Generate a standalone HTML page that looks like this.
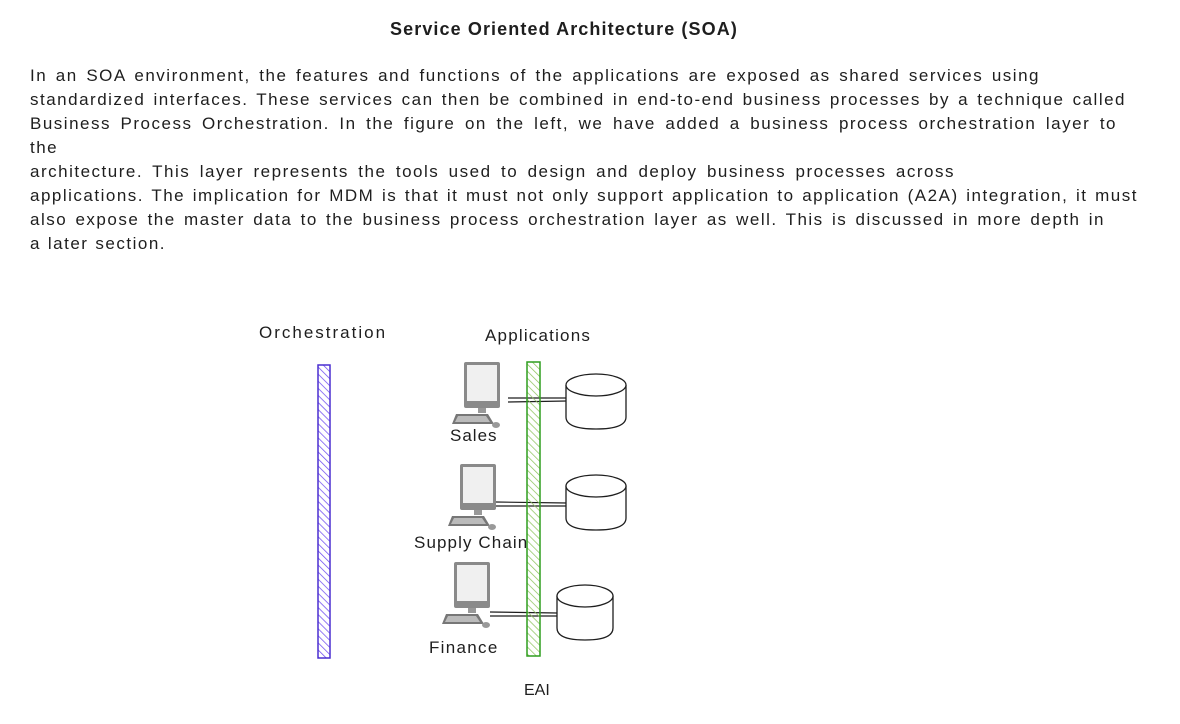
<!DOCTYPE html>
<html><head><meta charset="utf-8"><style>
body{margin:0;width:1180px;height:724px;background:#fff;position:relative;overflow:hidden;font-family:"Liberation Sans",sans-serif;color:#1e1e1e}
.t{position:absolute;white-space:nowrap}
.p{position:absolute;left:30px;top:64px;font-size:17px;line-height:24px;letter-spacing:1.5px;white-space:nowrap}
.p div{height:24px;text-align:justify;text-align-last:justify}
</style></head><body>
<div class="t" style="left:390px;top:19px;font-size:18px;font-weight:bold;letter-spacing:1.1px">Service Oriented Architecture (SOA)</div>
<div class="p">
<div style="width:1010px">In an SOA environment, the features and functions of the applications are exposed as shared services using</div>
<div style="width:1096px">standardized interfaces. These services can then be combined in end-to-end business processes by a technique called</div>
<div style="width:1087px">Business Process Orchestration. In the figure on the left, we have added a business process orchestration layer to</div>
<div style="width:29px">the</div>
<div style="width:925px">architecture. This layer represents the tools used to design and deploy business processes across</div>
<div style="width:1108px">applications. The implication for MDM is that it must not only support application to application (A2A) integration, it must</div>
<div style="width:1075px">also expose the master data to the business process orchestration layer as well. This is discussed in more depth in</div>
<div style="width:136px">a later section.</div>
</div>
<div class="t" style="left:259px;top:323px;font-size:17px;letter-spacing:2px">Orchestration</div>
<div class="t" style="left:485px;top:326px;font-size:17px;letter-spacing:1.2px">Applications</div>
<div class="t" style="left:450px;top:426px;font-size:17px;letter-spacing:1px">Sales</div>
<div class="t" style="left:414px;top:533px;font-size:17px;letter-spacing:1.1px">Supply Chain</div>
<div class="t" style="left:429px;top:638px;font-size:17px;letter-spacing:1.3px">Finance</div>
<div class="t" style="left:524px;top:682px;font-size:16px">EAI</div>
<svg width="1180" height="724" style="position:absolute;left:0;top:0">
<defs>
<pattern id="hp" width="5" height="5" patternUnits="userSpaceOnUse" patternTransform="rotate(-45)"><line x1="0" y1="0" x2="0" y2="5" stroke="#6f4ef0" stroke-width="1.5"/></pattern>
<pattern id="hg" width="5" height="5" patternUnits="userSpaceOnUse" patternTransform="rotate(-45)"><line x1="0" y1="0" x2="0" y2="5" stroke="#8fc460" stroke-width="1.5"/></pattern>
<g id="pc">
<rect x="12" y="0" width="36" height="46" fill="#8a8a8a" rx="2"/>
<rect x="15" y="3" width="30" height="36" fill="#f0f0f0"/>
<rect x="26" y="46" width="8" height="5" fill="#999"/>
<polygon points="4,52 36,52 42,62 0,62" fill="#777"/>
<polygon points="6,54 34,54 38,60 3,60" fill="#bbb"/>
<ellipse cx="44" cy="63" rx="4" ry="3" fill="#999"/>
</g>
</defs>
<rect x="318" y="365" width="12" height="293" fill="url(#hp)" stroke="#4a2fd0" stroke-width="1.5"/>
<g stroke="#1e1e1e" stroke-width="1.2" fill="none">
<path d="M508 398 L567 398 M508 402 L567 401"/>
<path d="M496 502 L567 503 M496 506 L567 506"/>
<path d="M490 612 L557 613 M490 616 L557 616"/>
</g>
<rect x="527" y="362" width="13" height="294" fill="url(#hg)" stroke="#2f9e1e" stroke-width="1.5"/>
<g stroke="#1e1e1e" stroke-width="1.3" fill="#fff">
<path d="M566 385 v32 q0 12 30 12 q30 0 30 -12 v-32"/><ellipse cx="596" cy="385" rx="30" ry="11"/>
<path d="M566 486 v32 q0 12 30 12 q30 0 30 -12 v-32"/><ellipse cx="596" cy="486" rx="30" ry="11"/>
<path d="M557 596 v32 q0 12 28 12 q28 0 28 -12 v-32"/><ellipse cx="585" cy="596" rx="28" ry="11"/>
</g>
<use href="#pc" x="452" y="362"/>
<use href="#pc" x="448" y="464"/>
<use href="#pc" x="442" y="562"/>
</svg>
</body></html>
